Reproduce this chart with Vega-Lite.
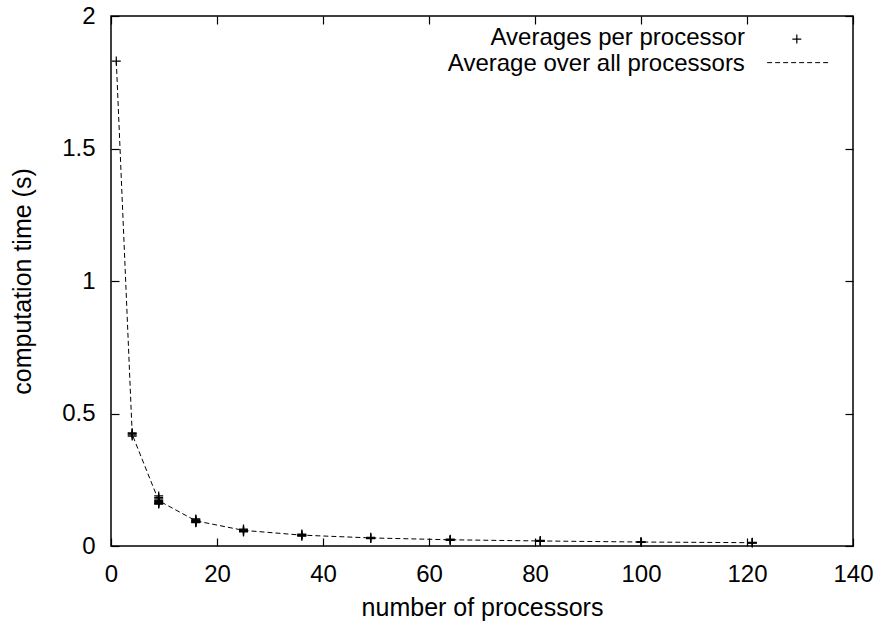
{
  "$schema": "https://vega.github.io/schema/vega-lite/v6.json",
  "width": 742,
  "height": 530,
  "autosize": {"type": "none"},
  "padding": {"left": 111, "top": 16, "right": 34, "bottom": 80},
  "background": "white",
  "config": {
    "view": {"stroke": "black", "strokeWidth": 1.5},
    "font": "Liberation Sans",
    "axis": {
      "grid": false,
      "domain": false,
      "tickColor": "black",
      "tickSize": -8,
      "tickWidth": 1.2,
      "labelFlush": false,
      "labelOverlap": false,
      "labelFont": "Liberation Sans",
      "labelFontSize": 24,
      "labelColor": "black",
      "titleFont": "Liberation Sans",
      "titleFontSize": 25,
      "titleFontWeight": "normal",
      "titleColor": "black"
    }
  },
  "datasets": {
    "avg": [
      {"processors": 1, "time": 1.83},
      {"processors": 4, "time": 0.421},
      {"processors": 9, "time": 0.171},
      {"processors": 16, "time": 0.095},
      {"processors": 25, "time": 0.059},
      {"processors": 36, "time": 0.041},
      {"processors": 49, "time": 0.0305},
      {"processors": 64, "time": 0.0235},
      {"processors": 81, "time": 0.019},
      {"processors": 100, "time": 0.015},
      {"processors": 121, "time": 0.0125}
    ],
    "pts": [
      {"processors": 1, "time": 1.83},
      {"processors": 4, "time": 0.427},
      {"processors": 4, "time": 0.424},
      {"processors": 4, "time": 0.419},
      {"processors": 4, "time": 0.415},
      {"processors": 9, "time": 0.189},
      {"processors": 9, "time": 0.183},
      {"processors": 9, "time": 0.178},
      {"processors": 9, "time": 0.172},
      {"processors": 9, "time": 0.168},
      {"processors": 9, "time": 0.165},
      {"processors": 9, "time": 0.162},
      {"processors": 9, "time": 0.16},
      {"processors": 9, "time": 0.158},
      {"processors": 16, "time": 0.102},
      {"processors": 16, "time": 0.099},
      {"processors": 16, "time": 0.097},
      {"processors": 16, "time": 0.095},
      {"processors": 16, "time": 0.093},
      {"processors": 16, "time": 0.091},
      {"processors": 16, "time": 0.089},
      {"processors": 16, "time": 0.088},
      {"processors": 25, "time": 0.064},
      {"processors": 25, "time": 0.061},
      {"processors": 25, "time": 0.059},
      {"processors": 25, "time": 0.057},
      {"processors": 25, "time": 0.055},
      {"processors": 25, "time": 0.053},
      {"processors": 36, "time": 0.045},
      {"processors": 36, "time": 0.043},
      {"processors": 36, "time": 0.041},
      {"processors": 36, "time": 0.039},
      {"processors": 36, "time": 0.037},
      {"processors": 49, "time": 0.033},
      {"processors": 49, "time": 0.031},
      {"processors": 49, "time": 0.029},
      {"processors": 49, "time": 0.028},
      {"processors": 64, "time": 0.026},
      {"processors": 64, "time": 0.024},
      {"processors": 64, "time": 0.022},
      {"processors": 64, "time": 0.021},
      {"processors": 81, "time": 0.021},
      {"processors": 81, "time": 0.019},
      {"processors": 81, "time": 0.018},
      {"processors": 81, "time": 0.017},
      {"processors": 100, "time": 0.016},
      {"processors": 100, "time": 0.015},
      {"processors": 100, "time": 0.014},
      {"processors": 121, "time": 0.014},
      {"processors": 121, "time": 0.013},
      {"processors": 121, "time": 0.012},
      {"processors": 121, "time": 0.011}
    ],
    "legend": [
      {"label": "Averages per processor", "lx": 119.6, "ly": 1.889, "sx": 129.4, "sy": 1.913, "kind": "points"},
      {"label": "Average over all processors", "lx": 119.6, "ly": 1.792, "sx": 123.8, "sx2": 135.8, "sy": 1.824, "kind": "line"}
    ]
  },
  "resolve": {"axis": {"x": "independent", "y": "independent"}},
  "layer": [
    {
      "data": {"name": "avg"},
      "mark": {"type": "line", "stroke": "black", "strokeWidth": 1, "strokeDash": [5, 3]},
      "encoding": {
        "x": {
          "field": "processors", "type": "quantitative",
          "scale": {"domain": [0, 140], "nice": false, "zero": true},
          "axis": {"orient": "bottom", "values": [0, 20, 40, 60, 80, 100, 120, 140], "title": "number of processors", "labelPadding": 24, "titlePadding": 9}
        },
        "y": {
          "field": "time", "type": "quantitative",
          "scale": {"domain": [0, 2], "nice": false, "zero": true},
          "axis": {"orient": "left", "values": [0, 0.5, 1, 1.5, 2], "format": "~g", "title": "computation time (s)", "labelPadding": 24, "titlePadding": 26}
        }
      }
    },
    {
      "data": {"name": "pts"},
      "mark": {"type": "point", "shape": "M-1,0H1M0,-1V1", "filled": false, "stroke": "black", "strokeWidth": 1.2, "size": 80, "opacity": 1},
      "encoding": {
        "x": {
          "field": "processors", "type": "quantitative",
          "axis": {"orient": "top", "values": [0, 20, 40, 60, 80, 100, 120, 140], "labels": false, "title": null}
        },
        "y": {
          "field": "time", "type": "quantitative",
          "axis": {"orient": "right", "values": [0, 0.5, 1, 1.5, 2], "labels": false, "title": null}
        }
      }
    },
    {
      "data": {"name": "legend"},
      "mark": {"type": "text", "align": "right", "baseline": "alphabetic", "fontSize": 24, "font": "Liberation Sans", "color": "black"},
      "encoding": {
        "x": {"field": "lx", "type": "quantitative", "axis": null},
        "y": {"field": "ly", "type": "quantitative", "axis": null},
        "text": {"field": "label"}
      }
    },
    {
      "data": {"name": "legend"},
      "transform": [{"filter": "datum.kind === 'points'"}],
      "mark": {"type": "point", "shape": "M-1,0H1M0,-1V1", "filled": false, "stroke": "black", "strokeWidth": 1.2, "size": 80, "opacity": 1},
      "encoding": {
        "x": {"field": "sx", "type": "quantitative", "axis": null},
        "y": {"field": "sy", "type": "quantitative", "axis": null}
      }
    },
    {
      "data": {"name": "legend"},
      "transform": [{"filter": "datum.kind === 'line'"}],
      "mark": {"type": "rule", "stroke": "black", "strokeWidth": 1, "strokeDash": [5, 3]},
      "encoding": {
        "x": {"field": "sx", "type": "quantitative", "axis": null},
        "x2": {"field": "sx2"},
        "y": {"field": "sy", "type": "quantitative", "axis": null}
      }
    }
  ]
}
